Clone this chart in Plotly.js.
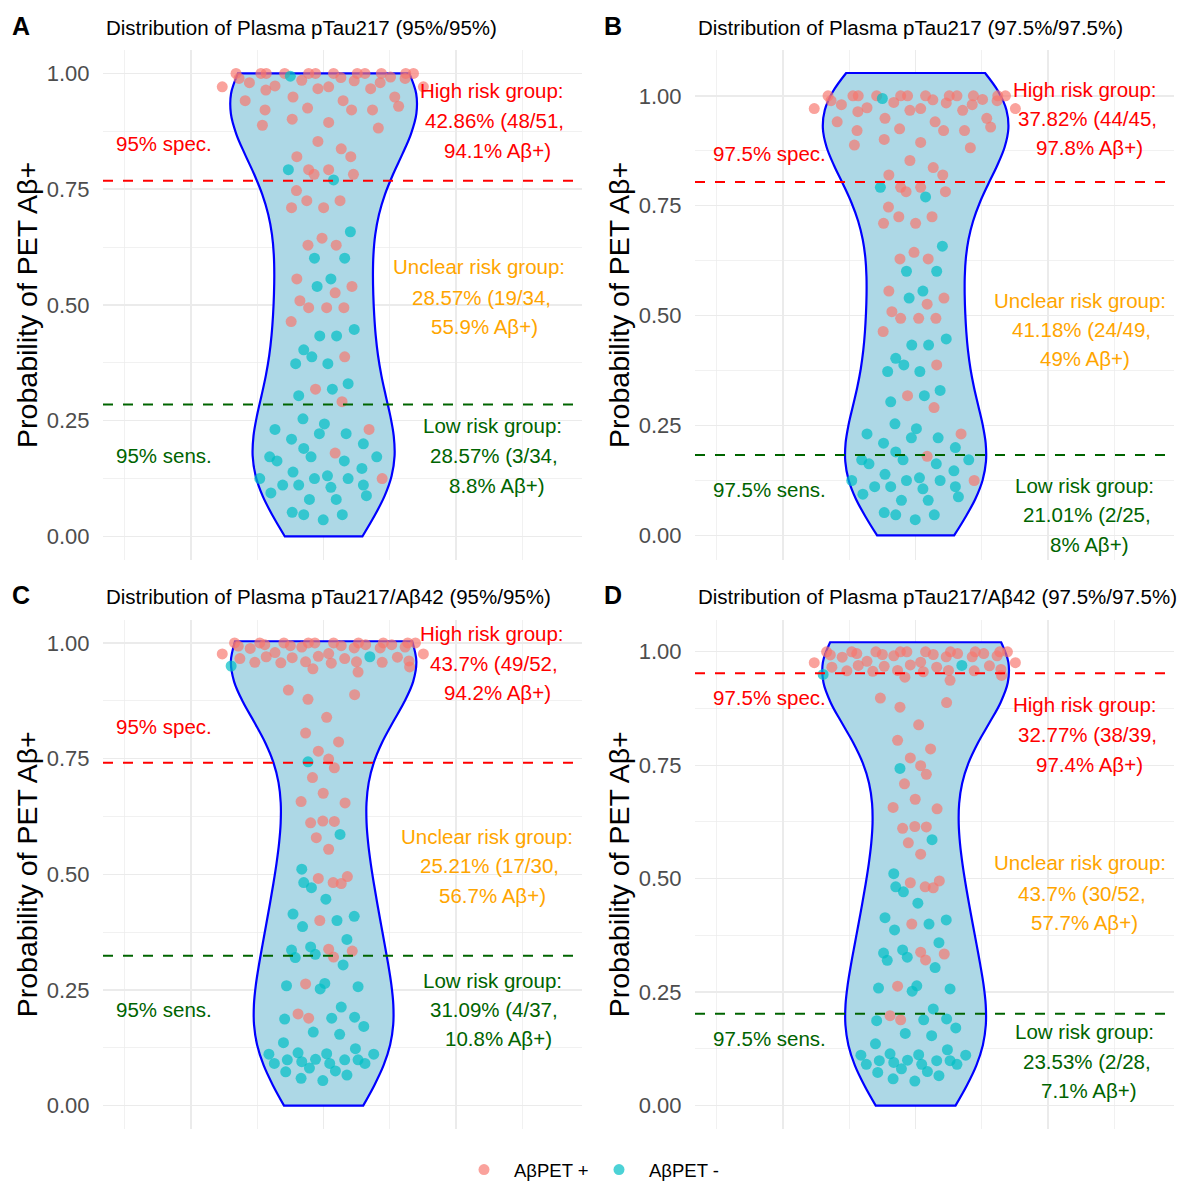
<!DOCTYPE html>
<html>
<head>
<meta charset="utf-8">
<script src="https://cdn.plot.ly/plotly-3.0.1.min.js"></script>
<style>html,body{margin:0;padding:0;background:#fff;overflow:hidden;} #chart{width:1184px;height:1189px;}</style>
</head>
<body>
<div id="chart"></div>
<script>
// ================= DATA =================
// Panels A & B: Plasma pTau217 ; Panels C & D: Plasma pTau217/Aβ42
// *_x = horizontal jitter offset of each point (violin centre = 0), *_y = probability of PET Aβ+

const pTau217_pos_x = [-0.661,-0.473,-0.433,-0.294,-0.113,-0.061,0.075,0.254,0.312,0.436,0.620,0.678,
  -0.638,-0.560,-0.165,0.130,0.231,0.505,0.615,0.427,
  -0.765,-0.367,-0.436,-0.043,0.038,0.355,0.753,
  -0.592,-0.231,0.147,0.537,0.566,
  -0.442,-0.121,0.211,0.369,
  -0.237,0.038,-0.462,0.413,-0.043,0.133,-0.202,0.205,
  -0.113,-0.072,0.038,0.225,
  -0.205,-0.127,0.124,-0.242,0.000,-0.012,-0.118,0.095,-0.202,0.214,0.087,-0.179,-0.113,0.023,0.153,-0.245,0.159,-0.061,0.139,
  0.343,0.087,0.442];
const pTau217_pos_y = [1,1,1,1,1,1,1,1,1,1,1,1,
  0.989,0.980,0.985,0.991,0.984,0.992,0.989,0.980,
  0.971,0.973,0.964,0.967,0.971,0.967,0.971,
  0.941,0.949,0.941,0.949,0.929,
  0.921,0.925,0.921,0.921,
  0.901,0.894,0.888,0.882,0.853,0.837,0.820,0.820,
  0.792,0.782,0.792,0.782,
  0.747,0.725,0.725,0.710,0.710,0.644,0.629,0.629,0.556,0.540,0.526,0.509,0.494,0.494,0.494,0.464,0.388,0.318,0.291,
  0.231,0.180,0.125];
const pTau217_neg_x = [-0.251,-0.266,0.075,
  0.202,-0.069,0.159,0.055,-0.049,0.231,-0.029,0.098,-0.150,-0.089,-0.211,0.032,0.185,0.066,-0.188,
  -0.156,0.006,-0.367,-0.032,0.170,-0.242,0.300,-0.150,-0.407,-0.095,0.401,-0.352,0.156,0.289,-0.231,
  0.029,-0.482,-0.069,0.185,-0.309,-0.188,0.300,0.055,-0.398,0.323,-0.107,0.095,-0.237,-0.150,0.141,-0.003];
const pTau217_neg_y = [0.994,0.792,0.770,
  0.658,0.601,0.601,0.556,0.540,0.447,0.433,0.433,0.403,0.388,0.373,0.373,0.330,0.318,0.304,
  0.254,0.243,0.231,0.222,0.222,0.210,0.200,0.190,0.172,0.172,0.172,0.163,0.163,0.147,0.139,
  0.131,0.125,0.125,0.125,0.111,0.111,0.111,0.106,0.094,0.088,0.080,0.080,0.052,0.047,0.047,0.036];

const ratio_pos_x = [-0.672,-0.482,-0.444,-0.300,-0.115,-0.066,0.075,0.263,0.317,0.450,0.635,0.693,
  -0.765,-0.644,-0.632,-0.554,-0.519,-0.433,-0.367,-0.323,-0.251,-0.237,-0.165,-0.136,-0.081,-0.040,0.038,
  0.058,0.133,0.159,0.231,0.248,0.260,0.427,0.442,0.514,0.557,0.615,0.644,0.649,0.753,
  -0.266,-0.118,0.234,0.023,-0.136,0.113,-0.040,0.038,
  0.081,-0.084,-0.003,-0.170,0.162,-0.098,-0.006,0.081,-0.055,0.038,-0.040,0.072,0.133,0.179,-0.029,0.038,0.216,
  0.075,-0.136,-0.193,-0.113];
const ratio_pos_y = [1,1,0.996,1,1,1,1,1,0.996,1,1,1,
  0.976,0.993,0.966,0.988,0.958,0.970,0.979,0.957,0.994,0.968,0.991,0.959,0.944,0.971,0.977,
  0.956,0.994,0.966,0.989,0.959,0.937,0.989,0.958,0.996,0.969,0.991,0.961,0.948,0.976,
  0.898,0.878,0.888,0.839,0.805,0.786,0.766,0.749,
  0.730,0.709,0.675,0.657,0.654,0.611,0.615,0.614,0.579,0.554,0.491,0.482,0.480,0.495,0.400,0.338,0.334,
  0.321,0.263,0.198,0.189];
const ratio_neg_x = [-0.698,0.349,-0.118,
  0.124,-0.165,-0.150,-0.092,0.017,-0.231,0.101,0.231,-0.159,0.176,-0.242,-0.098,-0.063,
  -0.214,0.147,-0.280,0.009,-0.026,0.260,0.133,-0.294,0.061,0.234,0.303,-0.078,0.121,-0.303,0.240,
  -0.413,-0.193,0.023,0.378,-0.372,-0.274,-0.165,-0.061,0.046,0.159,0.260,0.312,-0.107,0.089,-0.286,0.176,-0.170,-0.006];
const ratio_neg_y = [0.950,0.970,0.743,
  0.586,0.511,0.482,0.471,0.446,0.414,0.400,0.409,0.387,0.359,0.336,0.343,0.327,
  0.320,0.304,0.259,0.264,0.252,0.257,0.213,0.187,0.189,0.191,0.171,0.159,0.154,0.136,0.123,
  0.111,0.114,0.112,0.111,0.091,0.099,0.095,0.100,0.091,0.099,0.099,0.091,0.081,0.075,0.073,0.066,0.059,0.054];

// cut-offs (A, B, C, D)
const specCut = [0.768, 0.804, 0.741, 0.9526];
const sensCut = [0.285, 0.183, 0.3236, 0.2025];
const violinTop = [1.0, 1.052, 1.0035, 1.021];

// texts
const panelLetters = ["A", "B", "C", "D"];
const panelTitles = [
  "Distribution of Plasma pTau217 (95%/95%)",
  "Distribution of Plasma pTau217 (97.5%/97.5%)",
  "Distribution of Plasma pTau217/Aβ42 (95%/95%)",
  "Distribution of Plasma pTau217/Aβ42 (97.5%/97.5%)"];
const specLabels = ["95% spec.", "97.5% spec.", "95% spec.", "97.5% spec."];
const sensLabels = ["95% sens.", "97.5% sens.", "95% sens.", "97.5% sens."];
const highText = [
  ["High risk group:", "42.86% (48/51,", "94.1% Aβ+)"],
  ["High risk group:", "37.82% (44/45,", "97.8% Aβ+)"],
  ["High risk group:", "43.7% (49/52,", "94.2% Aβ+)"],
  ["High risk group:", "32.77% (38/39,", "97.4% Aβ+)"]];
const unclearText = [
  ["Unclear risk group:", "28.57% (19/34,", "55.9% Aβ+)"],
  ["Unclear risk group:", "41.18% (24/49,", "49% Aβ+)"],
  ["Unclear risk group:", "25.21% (17/30,", "56.7% Aβ+)"],
  ["Unclear risk group:", "43.7% (30/52,", "57.7% Aβ+)"]];
const lowText = [
  ["Low risk group:", "28.57% (3/34,", "8.8% Aβ+)"],
  ["Low risk group:", "21.01% (2/25,", "8% Aβ+)"],
  ["Low risk group:", "31.09% (4/37,", "10.8% Aβ+)"],
  ["Low risk group:", "23.53% (2/28,", "7.1% Aβ+)"]];
const yTitle = "Probability of PET Aβ+";
const legendNames = ["AβPET +", "AβPET -"];

// ================= LAYOUT / STYLE =================
const W = 1184, H = 1189;
const FONT = "Liberation Sans, Arial, sans-serif";
const colPx = [[103, 582], [695, 1174]];
const rowPx = [[50, 565], [625, 1138.3]];
const yRanges = [[-0.0514, 1.0514], [-0.0564, 1.1053], [-0.05, 1.05], [-0.051, 1.0706]];
const xRange = [-1.665, 1.95];
const BW_ADJUST = 1.1;
// label positions (data units) : [x of line1, line2, line3], [y of line1, line2, line3]
const labelPos = [
  {high:[[1.274,1.293,1.315],[0.962,0.898,0.833]], unclear:[[1.176,1.191,1.214],[0.582,0.517,0.453]], low:[[1.274,1.289,1.311],[0.240,0.174,0.109]], spec:[-1.204,0.848], sens:[-1.204,0.174]},
  {high:[[1.275,1.297,1.312],[1.015,0.949,0.882]], unclear:[[1.237,1.252,1.278],[0.535,0.468,0.402]], low:[[1.275,1.290,1.312],[0.114,0.047,-0.021]], spec:[-1.101,0.8685], sens:[-1.101,0.105]},
  {high:[[1.274,1.289,1.315],[1.020,0.956,0.892]], unclear:[[1.236,1.251,1.274],[0.582,0.518,0.454]], low:[[1.274,1.289,1.317],[0.271,0.208,0.144]], spec:[-1.204,0.819], sens:[-1.204,0.207]},
  {high:[[1.275,1.297,1.312],[0.883,0.818,0.752]], unclear:[[1.237,1.252,1.278],[0.535,0.468,0.404]], low:[[1.275,1.290,1.312],[0.164,0.098,0.033]], spec:[-1.101,0.8995], sens:[-1.101,0.148]}
];

function nrd0(a){
  const n = a.length, s = a.slice().sort((p,q)=>p-q);
  const mean = a.reduce((p,q)=>p+q,0)/n;
  const sd = Math.sqrt(a.reduce((p,q)=>p+(q-mean)*(q-mean),0)/(n-1));
  const qt = p => { const h=(n-1)*p, lo=Math.floor(h); return s[lo]+(h-lo)*((s[lo+1]??s[lo])-s[lo]); };
  const iqr = qt(0.75)-qt(0.25);
  return 0.9*Math.min(sd, iqr/1.34)*Math.pow(n,-0.2);
}

const datasets = [
  [pTau217_pos_x, pTau217_pos_y, pTau217_neg_x, pTau217_neg_y],
  [pTau217_pos_x, pTau217_pos_y, pTau217_neg_x, pTau217_neg_y],
  [ratio_pos_x, ratio_pos_y, ratio_neg_x, ratio_neg_y],
  [ratio_pos_x, ratio_pos_y, ratio_neg_x, ratio_neg_y]];

const traces = [];
const layout = {
  width: W, height: H, margin:{l:0,r:0,t:0,b:0},
  paper_bgcolor:"#FFFFFF", plot_bgcolor:"#FFFFFF",
  font:{family:FONT, color:"#000000"},
  showlegend:true,
  legend:{orientation:"h", x:(592-3)/W, xanchor:"center", y:1-1180/H, yanchor:"middle",
          font:{size:18.5, color:"#000000", family:FONT}, itemwidth:50, entrywidth:70, tracegroupgap:0},
  annotations:[], shapes:[]
};

for (let i=0;i<4;i++){
  const s = i===0 ? "" : String(i+1);
  const col = i%2, row = Math.floor(i/2);
  const [px, py, nx, ny] = datasets[i];
  const allY = py.concat(ny);
  layout["xaxis"+s] = {domain:[colPx[col][0]/W, colPx[col][1]/W], anchor:"y"+s, type:"linear",
    range:xRange, showticklabels:false, ticks:"", tick0:0, dtick:1,
    showgrid:true, gridcolor:"#EBEBEB", gridwidth:1.4,
    minor:{tick0:0, dtick:0.5, showgrid:true, gridcolor:"#EBEBEB", gridwidth:0.7},
    zeroline:false, showline:false, fixedrange:true};
  layout["yaxis"+s] = {domain:[1-rowPx[row][1]/H, 1-rowPx[row][0]/H], anchor:"x"+s, type:"linear",
    range:yRanges[i], tick0:0, dtick:0.25, tickformat:".2f",
    ticks:"outside", ticklen:8, tickcolor:"rgba(0,0,0,0)",
    tickfont:{size:22, color:"#4D4D4D", family:FONT},
    showgrid:true, gridcolor:"#EBEBEB", gridwidth:1.4,
    minor:{tick0:0, dtick:0.125, showgrid:true, gridcolor:"#EBEBEB", gridwidth:0.7},
    zeroline:false, showline:false, fixedrange:true};

  traces.push({type:"violin", x0:0, y:allY, xaxis:"x"+s, yaxis:"y"+s, orientation:"v",
    spanmode:"manual", span:[0, violinTop[i]], bandwidth:nrd0(allY)*BW_ADJUST, width:1.4, scalemode:"width",
    fillcolor:"#ADD8E6", line:{color:"#0000FF", width:2.2}, points:false,
    box:{visible:false}, meanline:{visible:false}, showlegend:false, hoverinfo:"skip", opacity:1});
  traces.push({type:"scatter", mode:"markers", x:px, y:py, xaxis:"x"+s, yaxis:"y"+s,
    name:legendNames[0], legendgroup:"pos", showlegend:i===0,
    marker:{color:"#F8766D", size:11, opacity:0.68, line:{width:0}}});
  traces.push({type:"scatter", mode:"markers", x:nx, y:ny, xaxis:"x"+s, yaxis:"y"+s,
    name:legendNames[1], legendgroup:"neg", showlegend:i===0,
    marker:{color:"#00BFC4", size:11, opacity:0.7, line:{width:0}}});

  // threshold lines
  layout.shapes.push({type:"line", xref:"x"+s+" domain", x0:0, x1:0.988, yref:"y"+s, y0:specCut[i], y1:specCut[i],
    line:{color:"#FF0000", width:2, dash:"10px,10px"}, layer:"above"});
  layout.shapes.push({type:"line", xref:"x"+s+" domain", x0:0, x1:0.988, yref:"y"+s, y0:sensCut[i], y1:sensCut[i],
    line:{color:"#006400", width:2, dash:"10px,10px"}, layer:"above"});

  // panel letter, title, y title
  const leftPx = col===0 ? 0 : 592;
  const topPx = row===0 ? 0 : 574;
  layout.annotations.push({xref:"paper", yref:"paper", x:(leftPx+21)/W, y:1-(topPx+26)/H,
    xanchor:"center", yanchor:"middle", showarrow:false, text:"<b>"+panelLetters[i]+"</b>",
    font:{size:25, color:"#000000", family:FONT}});
  layout.annotations.push({xref:"paper", yref:"paper", x:(colPx[col][0]+1)/W, y:1-(topPx+28)/H,
    xanchor:"left", yanchor:"middle", showarrow:false, text:panelTitles[i],
    font:{size:20.5, color:"#000000", family:FONT}});
  layout.annotations.push({xref:"paper", yref:"paper", x:(leftPx+27)/W, y:1-((rowPx[row][0]+rowPx[row][1])/2)/H,
    xanchor:"center", yanchor:"middle", showarrow:false, textangle:-90, text:yTitle,
    font:{size:28.5, color:"#000000", family:FONT}});

  const lp = labelPos[i];
  const addLines = (txt, pos, color) => {
    for (let k=0;k<3;k++) layout.annotations.push({xref:"x"+s, yref:"y"+s, x:pos[0][k], y:pos[1][k],
      xanchor:"center", yanchor:"middle", showarrow:false, text:txt[k], font:{size:20.5, color:color, family:FONT}});
  };
  addLines(highText[i], lp.high, "#FF0000");
  addLines(unclearText[i], lp.unclear, "#FFA500");
  addLines(lowText[i], lp.low, "#006400");
  layout.annotations.push({xref:"x"+s, yref:"y"+s, x:lp.spec[0], y:lp.spec[1], xanchor:"center", yanchor:"middle",
    showarrow:false, text:specLabels[i], font:{size:20.5, color:"#FF0000", family:FONT}});
  layout.annotations.push({xref:"x"+s, yref:"y"+s, x:lp.sens[0], y:lp.sens[1], xanchor:"center", yanchor:"middle",
    showarrow:false, text:sensLabels[i], font:{size:20.5, color:"#006400", family:FONT}});
}

Plotly.newPlot("chart", traces, layout, {displayModeBar:false, staticPlot:true});
</script>
</body>
</html>
